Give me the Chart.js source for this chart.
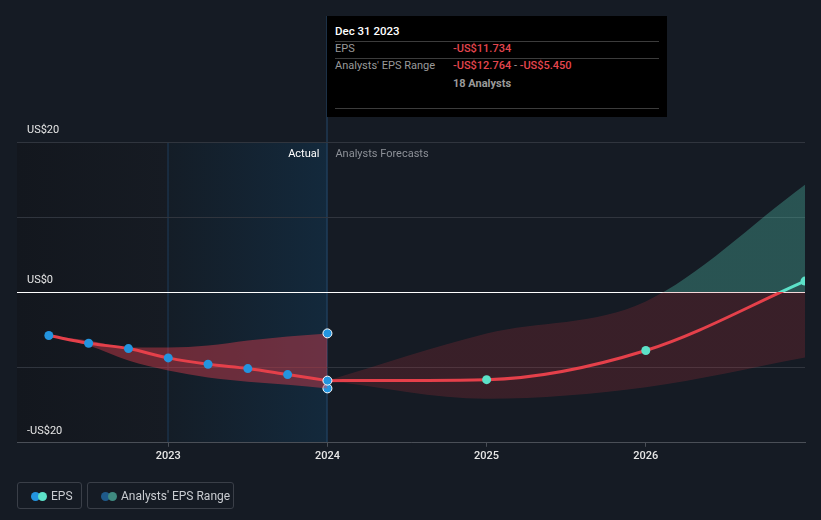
<!DOCTYPE html>
<html>
<head>
<meta charset="utf-8">
<script src="https://cdn.jsdelivr.net/npm/chart.js@4/dist/chart.umd.min.js"></script>
<style>
  html, body { margin: 0; padding: 0; background: #151b24; }
  #wrap { position: relative; width: 821px; height: 520px; font-family: Roboto, "Noto Sans", sans-serif; }
  canvas { position: absolute; left: 0; top: 0; }
  #tip { position: absolute; left: 327px; top: 16px; width: 340px; height: 101px; background: #000; color: #fff; font-size: 11px; }
  #tip .date { position: absolute; left: 8px; top: 8px; color: #fff; font-weight: 500; font-size: 11.5px; }
  #tip .sep { position: absolute; left: 8px; width: 324px; height: 1px; background: #3c3c3c; }
  #tip .lab { position: absolute; left: 8px; color: #9a9a9a; }
  #tip .val { position: absolute; left: 126px; color: #e5464f; font-weight: 500; }
  #tip .val .dash { color: #9a9a9a; font-weight: 400; }
  #tip .cnt { position: absolute; left: 126px; color: #9a9a9a; font-weight: 700; }
  .leg { position: absolute; top: 482px; height: 27px; border: 1px solid #3a3f48; border-radius: 3px; box-sizing: border-box; color: #c9ccd1; font-size: 12px; }
  .leg .d { position: absolute; top: 9px; width: 9px; height: 9px; border-radius: 50%; }
  .leg .t { position: absolute; top: 6px; }
</style>
</head>
<body>
<div id="wrap">
  <canvas id="c" width="821" height="520"></canvas>
  <div id="tip">
    <div class="date">Dec 31 2023</div>
    <div class="sep" style="top:25px"></div>
    <div class="lab" style="top:26px">EPS</div>
    <div class="val" style="top:26px">-US$11.734</div>
    <div class="sep" style="top:42px"></div>
    <div class="lab" style="top:43px">Analysts' EPS Range</div>
    <div class="val" style="top:43px">-US$12.764<span class="dash"> - </span>-US$5.450</div>
    <div class="cnt" style="top:61px">18 Analysts</div>
    <div class="sep" style="top:92px"></div>
  </div>
  <div class="leg" style="left:17px; width:65px;">
    <div class="d" style="left:13px; background:#2394df;"></div>
    <div class="d" style="left:20px; background:#5ce1c8;"></div>
    <div class="t" style="left:33px;">EPS</div>
  </div>
  <div class="leg" style="left:87px; width:147px;">
    <div class="d" style="left:13px; background:#1f5a8a;"></div>
    <div class="d" style="left:20px; background:#3f8a80;"></div>
    <div class="t" style="left:33px;">Analysts' EPS Range</div>
  </div>
</div>
<script>
// ---- data (decimal years / US$ EPS) ----
const actualDates = [2022.25, 2022.5, 2022.75, 2023.0, 2023.25, 2023.5, 2023.75, 2024.0];
const actualEPS   = [-5.73, -6.76, -7.47, -8.71, -9.56, -10.13, -10.93, -11.734];
const histRangeHigh = [-5.73, -6.4, -7.33, -7.33, -7.07, -6.4, -5.87, -5.45];
const histRangeLow  = [-5.73, -7.07, -9.07, -10.4, -11.33, -11.87, -12.27, -12.764];
const forecastDates = [2024.0, 2025.0, 2026.0, 2027.0];
const forecastEPS   = [-11.734, -11.6, -7.73, 1.5];
const fcRangeHigh   = [-11.734, -5.47, -1.2, 14.3];
const fcRangeLow    = [-11.734, -14.13, -12.6, -8.67];
const xTickYears = [2023, 2024, 2025, 2026];
const yTickValues = [-20, -10, 0, 10, 20];
const yLabels = {"20": "US$20", "0": "US$0", "-20": "-US$20"};
const actualStart = 2023.0, actualEnd = 2024.0;

const pts = (xs, ys) => xs.map((x, i) => ({x: x, y: ys[i]}));

function zeroGradient(ctx, above, below) {
  const chart = ctx.chart;
  const area = chart.chartArea;
  if (!area) return below;
  const y0 = chart.scales.y.getPixelForValue(0);
  const g = chart.ctx.createLinearGradient(0, area.top, 0, area.bottom);
  const f = Math.min(Math.max((y0 - area.top) / (area.bottom - area.top), 0), 1);
  g.addColorStop(0, above); g.addColorStop(f, above);
  g.addColorStop(f, below); g.addColorStop(1, below);
  return g;
}

const bgPlugin = {
  id: 'bg',
  beforeDraw(chart) {
    const {ctx, chartArea: a, scales: {x}} = chart;
    const xs = x.getPixelForValue(actualStart), xe = x.getPixelForValue(actualEnd);
    ctx.save();
    let g = ctx.createLinearGradient(a.left, 0, xs, 0);
    g.addColorStop(0, '#13171e'); g.addColorStop(1, '#161b23');
    ctx.fillStyle = g; ctx.fillRect(a.left, a.top, xs - a.left, a.bottom - a.top);
    g = ctx.createLinearGradient(xs, 0, xe, 0);
    g.addColorStop(0, '#141d27'); g.addColorStop(1, '#13293c');
    ctx.fillStyle = g; ctx.fillRect(xs, a.top, xe - xs, a.bottom - a.top);
    ctx.fillStyle = '#1e3d5a';
    ctx.fillRect(Math.round(xs) - 0.5, a.top, 1, a.bottom - a.top);
    ctx.fillStyle = '#24486a';
    ctx.fillRect(Math.round(xe) - 0.5, 16, 1, a.bottom - 16);
    ctx.font = '11px Roboto, sans-serif';
    ctx.textBaseline = 'middle';
    ctx.textAlign = 'right'; ctx.fillStyle = '#ffffff';
    ctx.fillText('Actual', xe - 8, a.top + 12);
    ctx.textAlign = 'left'; ctx.fillStyle = '#8c9097';
    ctx.fillText('Analysts Forecasts', xe + 8, a.top + 12);
    ctx.restore();
  }
};

const lineRed = '#e5404a', teal = '#5ce1c8', blue = '#2394df';
const lastIdx = actualDates.length - 1;
const endRadius = actualDates.map((d, i) => i === lastIdx ? 4.5 : 0);

new Chart(document.getElementById('c'), {
  type: 'line',
  data: {
    datasets: [
      { // 0 actual EPS
        data: pts(actualDates, actualEPS),
        borderColor: lineRed, borderWidth: 3,
        pointBackgroundColor: blue,
        pointBorderColor: actualDates.map((d, i) => i === lastIdx ? '#ffffff' : blue),
        pointBorderWidth: actualDates.map((d, i) => i === lastIdx ? 1 : 0),
        pointRadius: 4.5, cubicInterpolationMode: 'monotone', fill: false, order: 0
      },
      { // 1 forecast EPS
        data: pts(forecastDates, forecastEPS),
        borderColor: (c) => zeroGradient(c, teal, lineRed), borderWidth: 3,
        pointBackgroundColor: teal, pointBorderWidth: 0,
        pointRadius: forecastDates.map((d, i) => i === 0 ? 0 : 4.5),
        cubicInterpolationMode: 'monotone', fill: false, order: 1
      },
      { // 2 hist range high
        data: pts(actualDates, histRangeHigh),
        borderWidth: 0, borderColor: 'rgba(0,0,0,0)',
        pointRadius: endRadius, pointBackgroundColor: blue, pointBorderColor: '#ffffff', pointBorderWidth: 1,
        cubicInterpolationMode: 'monotone',
        fill: '+1', backgroundColor: 'rgba(228,62,78,0.42)', order: 2
      },
      { // 3 hist range low
        data: pts(actualDates, histRangeLow),
        borderWidth: 0, borderColor: 'rgba(0,0,0,0)',
        pointRadius: endRadius, pointBackgroundColor: blue, pointBorderColor: '#ffffff', pointBorderWidth: 1,
        cubicInterpolationMode: 'monotone', fill: false, order: 3
      },
      { // 4 forecast range high
        data: pts(forecastDates, fcRangeHigh),
        borderWidth: 0, borderColor: 'rgba(0,0,0,0)', pointRadius: 0,
        cubicInterpolationMode: 'monotone',
        fill: '+1', backgroundColor: (c) => zeroGradient(c, 'rgba(80,190,170,0.35)', 'rgba(205,52,62,0.2)'), order: 4
      },
      { // 5 forecast range low
        data: pts(forecastDates, fcRangeLow),
        borderWidth: 0, borderColor: 'rgba(0,0,0,0)', pointRadius: 0,
        cubicInterpolationMode: 'monotone', fill: false, order: 5
      }
    ]
  },
  options: {
    responsive: false, animation: false,
    layout: { padding: { left: 17, right: 16, top: 142, bottom: 54 } },
    plugins: { legend: { display: false }, tooltip: { enabled: false } },
    scales: {
      x: {
        type: 'linear', min: 2022.05, max: 2027,
        afterBuildTicks: (s) => { s.ticks = xTickYears.map(v => ({value: v})); },
        ticks: { color: '#e6e6e6', font: { family: 'Roboto', size: 11, weight: '500' }, padding: 3,
                 maxRotation: 0, autoSkip: false, callback: (v) => String(v) },
        grid: { drawOnChartArea: false, drawTicks: true, tickLength: 4, color: '#4a4f57' },
        border: { display: true, color: '#4a4f57', width: 1 }
      },
      y: {
        type: 'linear', min: -20, max: 20,
        afterBuildTicks: (s) => { s.ticks = yTickValues.map(v => ({value: v})); },
        afterFit: (s) => { s.width = 0; },
        ticks: { mirror: true, padding: 10, labelOffset: -12, color: '#e6e6e6',
                 font: { family: 'Roboto', size: 11 },
                 callback: (v) => yLabels[String(v)] || '' },
        grid: { drawTicks: false, lineWidth: 1,
                color: (c) => c.tick && c.tick.value === 0 ? '#ffffff' : '#30353e' },
        border: { display: false }
      }
    }
  },
  plugins: [bgPlugin]
});
</script>
</body>
</html>
